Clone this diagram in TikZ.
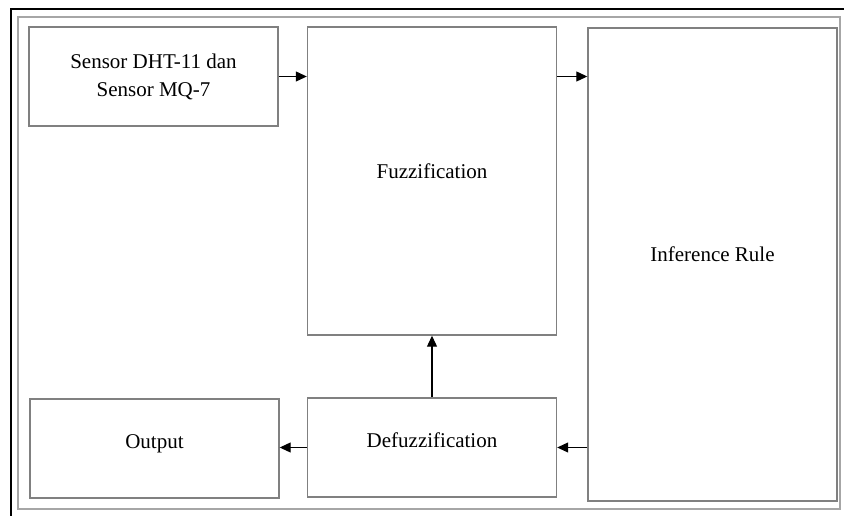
\documentclass[tikz,border=0pt]{standalone}
\usepackage{fontspec}
\setmainfont{Liberation Serif}
\usetikzlibrary{arrows.meta}
\definecolor{boxgray}{HTML}{808080}
\definecolor{framegray}{HTML}{A6A6A6}
\begin{document}
\begin{tikzpicture}[x=1pt,y=-1pt,
  blk/.style={draw=boxgray,line width=1.4pt,fill=white,inner sep=0pt,
    font=\fontsize{21}{28}\selectfont,text height=6pt,text depth=6pt},
  conn/.style={line width=1.1pt,-{Triangle[length=11pt,width=10pt]}}]
\useasboundingbox (0,0) rectangle (844,516);
\fill[white] (0,0) rectangle (844,516);
% outer black frame (top and left)
\draw[line width=2.2pt,black] (11,518) -- (11,9) -- (846,9);
% inner gray frame
\draw[framegray,line width=1.8pt] (18,17) rectangle (840,509);
% blocks
\node[blk,minimum width=249pt,minimum height=99pt,align=center,text height=,text depth=] (sensor) at (153.5,76.5)
  {Sensor DHT-11 dan\\Sensor MQ-7};
\node[blk,minimum width=249pt,minimum height=308pt] (fuzz) at (432,181) {\raisebox{2pt}{Fuzzification}};
\node[blk,minimum width=249pt,minimum height=473pt] (inf) at (712.5,264.5) {\raisebox{2.5pt}{Inference Rule}};
\node[blk,minimum width=249pt,minimum height=99pt] (defuzz) at (432,447.5) {Defuzzification};
\node[blk,minimum width=249pt,minimum height=99pt] (output) at (154.5,448.5) {Output};
% connectors
\draw[conn] (sensor.east) -- (sensor.east -| fuzz.west);
\draw[conn] (fuzz.east |- sensor.east) -- (inf.west |- sensor.east);
\draw[conn] (inf.west |- defuzz.east) -- (defuzz.east);
\draw[conn] (defuzz.west) -- (defuzz.west -| output.east);
\draw[conn] (defuzz.north) -- (fuzz.south);
\end{tikzpicture}
\end{document}
